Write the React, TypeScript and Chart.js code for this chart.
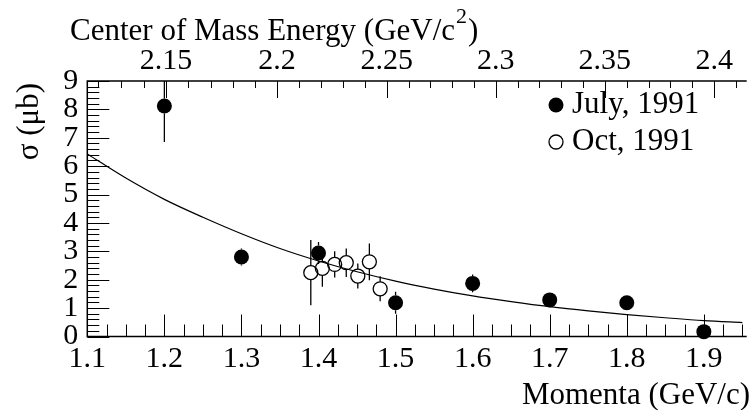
import React, { useEffect, useRef } from "react";
import { Chart, registerables } from "chart.js";

Chart.register(...registerables);

// ---- data ----
const julyMomenta = [1.2, 1.3, 1.4, 1.5, 1.6, 1.7, 1.8, 1.9];
const julySigma = [8.12, 2.8, 2.94, 1.19, 1.87, 1.29, 1.19, 0.17];
const julyError = [1.27, 0.3, 0.39, 0.39, 0.31, 0.2, 0.2, 0.2];

const octMomenta = [1.39, 1.405, 1.421, 1.436, 1.451, 1.466, 1.48];
const octSigma = [2.25, 2.4, 2.54, 2.6, 2.13, 2.63, 1.68];
const octError = [1.15, 0.65, 0.46, 0.5, 0.44, 0.65, 0.44];

const fitMomenta = [1.1, 1.15, 1.2, 1.25, 1.3, 1.35, 1.4, 1.45, 1.5, 1.55, 1.6, 1.65, 1.7, 1.75, 1.8, 1.85, 1.9, 1.95];
const fitSigma = [6.43, 5.58, 4.83, 4.2, 3.62, 3.1, 2.66, 2.28, 1.95, 1.67, 1.43, 1.23, 1.05, 0.9, 0.77, 0.66, 0.56, 0.49];

const bottomTicks = [1.1, 1.2, 1.3, 1.4, 1.5, 1.6, 1.7, 1.8, 1.9];
const leftTicks = [0, 1, 2, 3, 4, 5, 6, 7, 8, 9];
const topTickEnergies = [2.15, 2.2, 2.25, 2.3, 2.35, 2.4];
const topTickLabels = ["2.15", "2.2", "2.25", "2.3", "2.35", "2.4"];

const legendLabels = ["July, 1991", "Oct, 1991"];
const xTitle = "Momenta (GeV/c)";
const yTitle = "σ (μb)";
const topTitle = "Center of Mass Energy (GeV/c";

const X_MIN = 1.1;
const X_MAX = 1.953;
const FONT = "'Liberation Serif', 'Times New Roman', serif";

// p-bar p: centre-of-mass energy -> beam momentum (axis transform)
const MP = 0.938272;
function energyToMomentum(w: number) {
  const e = (w * w - 2 * MP * MP) / (2 * MP);
  return Math.sqrt(e * e - MP * MP);
}

const errorSets = [julyError, octError];
const radii = [7.5, 7];

const decorPlugin = {
  id: "rootDecor",
  beforeDatasetsDraw(chart: any) {
    const { ctx, chartArea } = chart;
    const ys = chart.scales.y;
    ctx.save();
    ctx.beginPath();
    ctx.rect(chartArea.left, chartArea.top, chartArea.right - chartArea.left, chartArea.bottom - chartArea.top);
    ctx.clip();
    ctx.strokeStyle = "#000";
    ctx.lineWidth = 1.3;
    errorSets.forEach((errs, di) => {
      const meta = chart.getDatasetMeta(di);
      const vals = chart.data.datasets[di].data;
      const r = radii[di];
      meta.data.forEach((el: any, i: number) => {
        const v = vals[i].y;
        const hi = ys.getPixelForValue(v + errs[i]);
        const lo = ys.getPixelForValue(v - errs[i]);
        ctx.beginPath();
        if (hi < el.y - r) {
          ctx.moveTo(el.x, hi);
          ctx.lineTo(el.x, el.y - r);
        }
        if (lo > el.y + r) {
          ctx.moveTo(el.x, el.y + r);
          ctx.lineTo(el.x, lo);
        }
        ctx.stroke();
      });
    });
    ctx.restore();
  },
  afterDraw(chart: any) {
    const { ctx, chartArea } = chart;
    const { left, right, top, bottom } = chartArea;
    const xs = chart.scales.x;
    const ys = chart.scales.y;
    ctx.save();
    ctx.strokeStyle = "#000";
    ctx.fillStyle = "#000";

    // ticks
    ctx.lineWidth = 1;
    ctx.beginPath();
    for (let i = 0; i <= 40; i++) {
      const v = X_MIN + i * 0.025;
      if (v > X_MAX + 1e-9) break;
      const px = Math.round(xs.getPixelForValue(v)) + 0.5;
      const len = i % 4 === 0 ? 22 : 12;
      ctx.moveTo(px, bottom);
      ctx.lineTo(px, bottom - len);
    }
    for (let i = 0; i <= 45; i++) {
      const py = Math.round(ys.getPixelForValue(i * 0.2)) + 0.5;
      const len = i % 5 === 0 ? 22 : 12;
      ctx.moveTo(left, py);
      ctx.lineTo(left + len, py);
    }
    for (let k = 211; k <= 242; k++) {
      const p = energyToMomentum(k / 100);
      if (isNaN(p) || p < X_MIN || p > X_MAX) continue;
      const px = Math.round(xs.getPixelForValue(p)) + 0.5;
      const len = k % 5 === 0 ? 17 : 7;
      ctx.moveTo(px, top);
      ctx.lineTo(px, top + len);
    }
    ctx.stroke();

    // frame
    ctx.lineWidth = 1.5;
    ctx.beginPath();
    ctx.moveTo(right + 2, top);
    ctx.lineTo(left, top);
    ctx.lineTo(left, bottom);
    ctx.lineTo(right + 2, bottom);
    ctx.stroke();

    // titles
    ctx.textBaseline = "alphabetic";
    ctx.font = `31px ${FONT}`;
    ctx.textAlign = "right";
    ctx.fillText(xTitle, 750, 404);

    ctx.textAlign = "left";
    const tx = 70;
    ctx.fillText(topTitle, tx, 40);
    const w1 = ctx.measureText(topTitle).width;
    ctx.font = `22px ${FONT}`;
    ctx.fillText("2", tx + w1 + 1, 23);
    const w2 = ctx.measureText("2").width;
    ctx.font = `31px ${FONT}`;
    ctx.fillText(")", tx + w1 + w2 + 2, 40);

    ctx.save();
    ctx.translate(38, 83);
    ctx.rotate(-Math.PI / 2);
    ctx.textAlign = "right";
    ctx.fillText(yTitle, 0, 0);
    ctx.restore();

    // legend
    ctx.beginPath();
    ctx.arc(556, 105, 7.5, 0, Math.PI * 2);
    ctx.fill();
    ctx.beginPath();
    ctx.lineWidth = 1.3;
    ctx.arc(556, 142, 7, 0, Math.PI * 2);
    ctx.stroke();
    ctx.textAlign = "left";
    ctx.font = `31px ${FONT}`;
    ctx.fillText(legendLabels[0], 572, 113);
    ctx.fillText(legendLabels[1], 572, 150);

    ctx.restore();
  },
};

export default function App() {
  const ref = useRef<HTMLCanvasElement | null>(null);

  useEffect(() => {
    document.body.style.margin = "0";
    const canvas = ref.current;
    if (!canvas) return;
    const tickFont = { family: FONT, size: 30 };
    const chart = new Chart(canvas, {
      type: "scatter",
      data: {
        datasets: [
          {
            label: legendLabels[0],
            data: julyMomenta.map((x, i) => ({ x, y: julySigma[i] })),
            pointRadius: radii[0],
            pointBackgroundColor: "#000",
            pointBorderWidth: 0,
            pointBorderColor: "#000",
            clip: false,
          },
          {
            label: legendLabels[1],
            data: octMomenta.map((x, i) => ({ x, y: octSigma[i] })),
            pointRadius: radii[1],
            pointBackgroundColor: "rgba(0,0,0,0)",
            pointBorderColor: "#000",
            pointBorderWidth: 1.3,
            clip: false,
          },
          {
            label: "fit",
            data: fitMomenta.map((x, i) => ({ x, y: fitSigma[i] })),
            showLine: true,
            pointRadius: 0,
            borderColor: "#000",
            borderWidth: 1.2,
            cubicInterpolationMode: "monotone",
            fill: false,
          },
        ],
      },
      options: {
        responsive: false,
        animation: false,
        events: [],
        devicePixelRatio: 1,
        layout: { padding: 0 },
        plugins: { legend: { display: false }, tooltip: { enabled: false } },
        scales: {
          x: {
            type: "linear",
            position: "bottom",
            min: X_MIN,
            max: X_MAX,
            grid: { display: false, drawTicks: false },
            border: { display: false },
            afterBuildTicks: (s: any) => {
              s.ticks = bottomTicks.map((v) => ({ value: v }));
            },
            afterFit: (s: any) => {
              s.height = 73.5;
            },
            ticks: {
              autoSkip: false,
              maxRotation: 0,
              padding: 5,
              color: "#000",
              font: tickFont,
              callback: (v: any) => String(v),
            },
          },
          x2: {
            type: "linear",
            position: "top",
            min: X_MIN,
            max: X_MAX,
            grid: { display: false, drawTicks: false },
            border: { display: false },
            afterBuildTicks: (s: any) => {
              s.ticks = topTickEnergies.map((e) => ({ value: energyToMomentum(e) }));
            },
            afterFit: (s: any) => {
              s.height = 81;
            },
            ticks: {
              autoSkip: false,
              maxRotation: 0,
              padding: 2,
              color: "#000",
              font: tickFont,
              callback: (_v: any, i: number) => topTickLabels[i],
            },
          },
          y: {
            type: "linear",
            min: 0,
            max: 9,
            grid: { display: false, drawTicks: false },
            border: { display: false },
            afterBuildTicks: (s: any) => {
              s.ticks = leftTicks.map((v) => ({ value: v }));
            },
            afterFit: (s: any) => {
              s.width = 87.3;
            },
            ticks: {
              autoSkip: false,
              padding: 9,
              color: "#000",
              font: tickFont,
              callback: (v: any) => String(v),
            },
          },
        },
      },
      plugins: [decorPlugin],
    } as any);
    return () => chart.destroy();
  }, []);

  return (
    <div style={{ width: 753, height: 410 }}>
      <canvas ref={ref} width={753} height={410} style={{ display: "block" }} />
    </div>
  );
}
